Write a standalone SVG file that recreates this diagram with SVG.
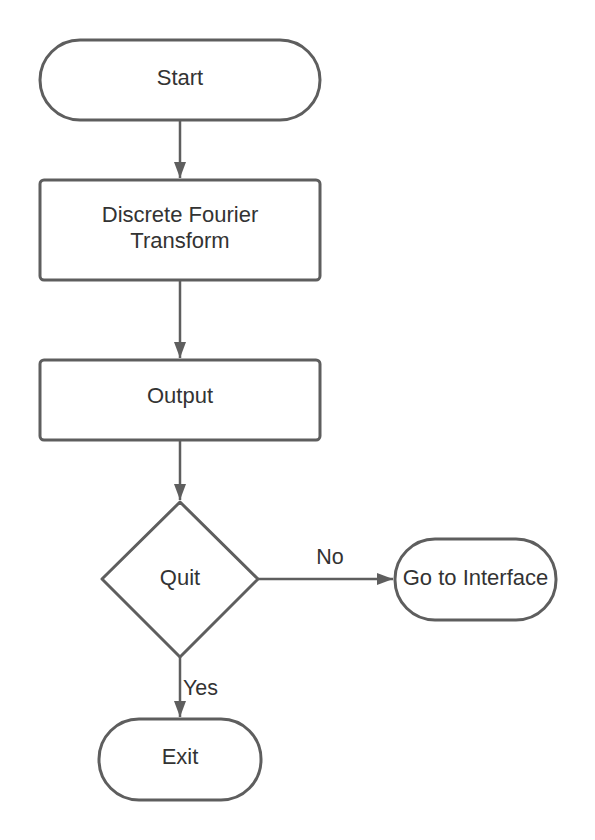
<svg xmlns="http://www.w3.org/2000/svg" width="595" height="840" viewBox="0 0 595 840">
<defs>
<marker id="arr" markerWidth="17" markerHeight="13" refX="16" refY="6.5" orient="auto" markerUnits="userSpaceOnUse">
<path d="M0,0.5 L16,6.5 L0,12.5 Z" fill="#5e5e5e"/>
</marker>
<style>
.shape{fill:#fff;stroke:#5e5e5e;stroke-width:3;stroke-linejoin:round}
.conn{fill:none;stroke:#5e5e5e;stroke-width:2.5}
text{font-family:"Liberation Sans",Arial,sans-serif;font-size:22px;fill:#333;text-anchor:middle}
.lbl{font-size:21.5px}
</style>
</defs>
<rect width="595" height="840" fill="#fff"/>
<g id="connectors">
<line class="conn" x1="180" y1="120" x2="180" y2="178" marker-end="url(#arr)"/>
<line class="conn" x1="180" y1="280" x2="180" y2="358" marker-end="url(#arr)"/>
<line class="conn" x1="180" y1="440" x2="180" y2="500" marker-end="url(#arr)"/>
<line class="conn" x1="258" y1="579" x2="393" y2="579" marker-end="url(#arr)"/>
<line class="conn" x1="180" y1="657" x2="180" y2="717" marker-end="url(#arr)"/>
<text class="lbl" x="330" y="564">No</text>
<text class="lbl" x="183" y="695" style="text-anchor:start">Yes</text>
</g>
<g id="start">
<rect class="shape" x="40" y="40" width="280" height="80" rx="40"/>
<text x="180" y="85">Start</text>
</g>
<g id="dft">
<rect class="shape" x="40" y="180" width="280" height="100" rx="4"/>
<text x="180" y="222">Discrete Fourier</text>
<text x="180" y="248">Transform</text>
</g>
<g id="output">
<rect class="shape" x="40" y="360" width="280" height="80" rx="4"/>
<text x="180" y="403">Output</text>
</g>
<g id="quit">
<path class="shape" d="M180,502 L258,579 L180,657 L102,579 Z"/>
<text x="180" y="585">Quit</text>
</g>
<g id="interface">
<rect class="shape" x="395" y="539" width="161" height="81" rx="40"/>
<text x="475.5" y="585">Go to Interface</text>
</g>
<g id="exit">
<rect class="shape" x="99" y="719" width="162" height="81" rx="40"/>
<text x="180" y="764">Exit</text>
</g>
</svg>
